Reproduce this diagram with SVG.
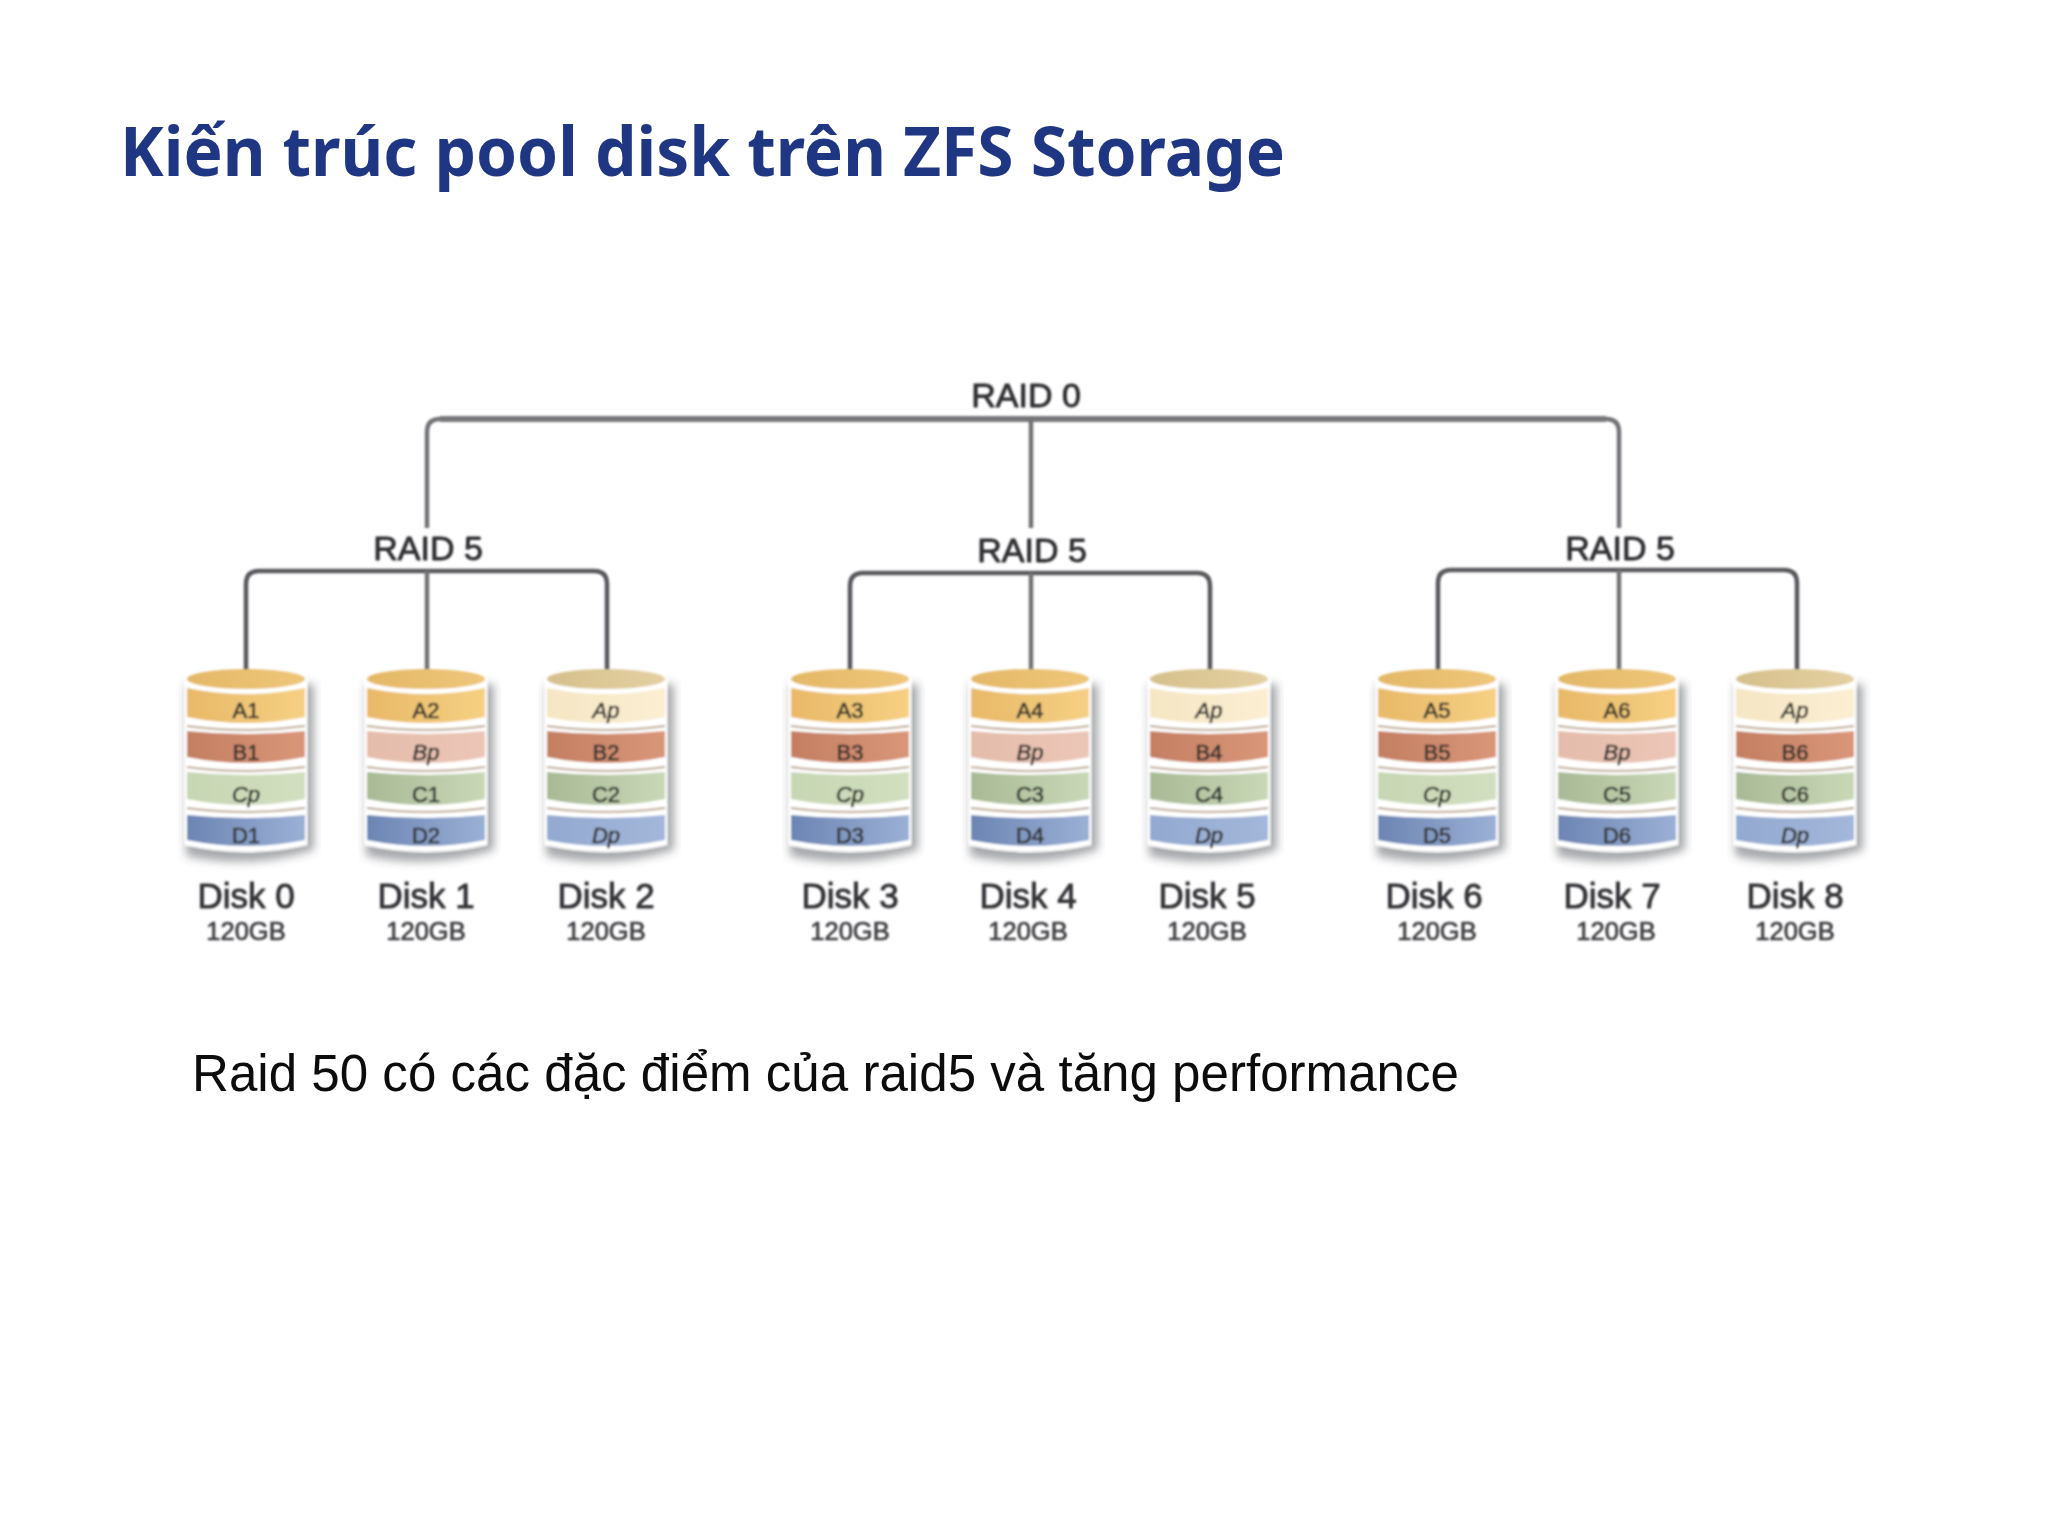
<svg xmlns="http://www.w3.org/2000/svg" width="2048" height="1536" viewBox="0 0 2048 1536">
<style>
.title{font-family:"Noto Sans","Open Sans",sans-serif;font-weight:700;font-size:69px;fill:#1f3683}
.body{font-family:"Liberation Sans",Arial,sans-serif;font-size:51px;fill:#0c0c0c}
text.m{text-anchor:middle;font-family:"Liberation Sans",Arial,sans-serif;stroke-linejoin:round}
.raid{font-size:34px;fill:#2f2f33;stroke:#2f2f33;stroke-width:.9}
.name{font-size:35px;fill:#333337;stroke:#333337;stroke-width:.9}
.size{font-size:25.5px;fill:#3e3e42;stroke:#3e3e42;stroke-width:.7}
.lab{font-size:22px;fill:#33332e;stroke:#33332e;stroke-width:.7}
.par{font-style:italic}
.big{fill:none;stroke:#727277;stroke-width:4.5}
.bar{fill:none;stroke:#58585d;stroke-width:4.5}
.ho{fill:none;stroke:#77777b;stroke-width:6}
</style>
<defs>
<filter id="soft" x="-5%" y="-5%" width="110%" height="110%"><feGaussianBlur stdDeviation="0.8"/></filter>
<filter id="shadow" x="-20%" y="-20%" width="140%" height="140%"><feGaussianBlur stdDeviation="4.5"/></filter>
<linearGradient id="gTop"><stop offset="0" stop-color="#e3b867"/><stop offset="1" stop-color="#efc67a"/></linearGradient>
<linearGradient id="gTopP"><stop offset="0" stop-color="#d5c08c"/><stop offset="1" stop-color="#e5d0a2"/></linearGradient>
<linearGradient id="gA"><stop offset="0" stop-color="#e8b968"/><stop offset="1" stop-color="#f6d083"/></linearGradient>
<linearGradient id="gAp"><stop offset="0" stop-color="#f5e6c4"/><stop offset="1" stop-color="#fbeed2"/></linearGradient>
<linearGradient id="gB"><stop offset="0" stop-color="#c47f62"/><stop offset="1" stop-color="#da9679"/></linearGradient>
<linearGradient id="gBp"><stop offset="0" stop-color="#e4bcab"/><stop offset="1" stop-color="#ecc6b7"/></linearGradient>
<linearGradient id="gC"><stop offset="0" stop-color="#a9b996"/><stop offset="1" stop-color="#c9d8b6"/></linearGradient>
<linearGradient id="gCp"><stop offset="0" stop-color="#c7d6b3"/><stop offset="1" stop-color="#d2dfc0"/></linearGradient>
<linearGradient id="gD"><stop offset="0" stop-color="#6c85b3"/><stop offset="1" stop-color="#9bb0d5"/></linearGradient>
<linearGradient id="gDp"><stop offset="0" stop-color="#93a9d0"/><stop offset="1" stop-color="#a3b7da"/></linearGradient>
<g id="base">
<path d="M-60,684 H68 V850 Q6,870 -60,856 Z" fill="#50555b" opacity=".5" filter="url(#shadow)"/>
<path d="M-61,679 Q0,664 61,679 V845 Q0,859 -61,845 Z" fill="#fff"/>
<path d="M-59,726 Q0,734 59,726 M-59,767 Q0,775 59,767 M-59,808 Q0,816 59,808" fill="none" stroke="#c9b9a8" stroke-width="2.5"/>
</g>
<ellipse id="l0" cx="0" cy="679" rx="59" ry="10"/>
<path id="l1" d="M-59,688 Q0,700 59,688 V717 Q0,729 -59,717 Z"/>
<path id="l2" d="M-59,731 Q0,737 59,731 V757 Q0,769 -59,757 Z"/>
<path id="l3" d="M-59,772 Q0,778 59,772 V799 Q0,811 -59,799 Z"/>
<path id="l4" d="M-59,815 Q0,821 59,815 V840 Q0,852 -59,840 Z"/>
</defs>
<rect width="2048" height="1536" fill="#fff"/>
<text class="title" x="120" y="176" textLength="1165" lengthAdjust="spacingAndGlyphs">Kiến trúc pool disk trên ZFS Storage</text>
<g id="connectors" filter="url(#soft)">
<path class="big" d="M427,528 V432 Q427,419 440,419 H1606 Q1619,419 1619,432 V528"/>
<path class="ho" d="M440,419 H1606"/>
<path class="big" d="M1031,419 V528"/>
<path class="bar" d="M246,682 V584 Q246,571 259,571 H594 Q607,571 607,584 V682"/>
<path class="big" d="M427,571 V682"/>
<path class="bar" d="M850,682 V586 Q850,573 863,573 H1197 Q1210,573 1210,586 V682"/>
<path class="big" d="M1031,573 V682"/>
<path class="bar" d="M1438,682 V583 Q1438,570 1451,570 H1784 Q1797,570 1797,583 V682"/>
<path class="big" d="M1619,570 V682"/>
</g>
<g id="raid0-label" filter="url(#soft)"><text class="m raid" x="1026" y="407">RAID 0</text></g>
<g id="raid5-a-label" filter="url(#soft)"><text class="m raid" x="428" y="560">RAID 5</text></g>
<g id="raid5-b-label" filter="url(#soft)"><text class="m raid" x="1032" y="562">RAID 5</text></g>
<g id="raid5-c-label" filter="url(#soft)"><text class="m raid" x="1620" y="560">RAID 5</text></g>

<g id="disk-0" transform="translate(246,0)" filter="url(#soft)">
<use href="#base"/><use href="#l0" fill="url(#gTop)"/><use href="#l1" fill="url(#gA)"/><use href="#l2" fill="url(#gB)"/><use href="#l3" fill="url(#gCp)"/><use href="#l4" fill="url(#gD)"/>
<text class="m lab" y="718">A1</text><text class="m lab" y="760">B1</text><text class="m lab par" y="802">Cp</text><text class="m lab" y="843">D1</text>
<text class="m name" y="908">Disk 0</text><text class="m size" y="940">120GB</text></g>

<g id="disk-1" transform="translate(426,0)" filter="url(#soft)">
<use href="#base"/><use href="#l0" fill="url(#gTop)"/><use href="#l1" fill="url(#gA)"/><use href="#l2" fill="url(#gBp)"/><use href="#l3" fill="url(#gC)"/><use href="#l4" fill="url(#gD)"/>
<text class="m lab" y="718">A2</text><text class="m lab par" y="760">Bp</text><text class="m lab" y="802">C1</text><text class="m lab" y="843">D2</text>
<text class="m name" y="908">Disk 1</text><text class="m size" y="940">120GB</text></g>

<g id="disk-2" transform="translate(606,0)" filter="url(#soft)">
<use href="#base"/><use href="#l0" fill="url(#gTopP)"/><use href="#l1" fill="url(#gAp)"/><use href="#l2" fill="url(#gB)"/><use href="#l3" fill="url(#gC)"/><use href="#l4" fill="url(#gDp)"/>
<text class="m lab par" y="718">Ap</text><text class="m lab" y="760">B2</text><text class="m lab" y="802">C2</text><text class="m lab par" y="843">Dp</text>
<text class="m name" y="908">Disk 2</text><text class="m size" y="940">120GB</text></g>

<g id="disk-3" transform="translate(850,0)" filter="url(#soft)">
<use href="#base"/><use href="#l0" fill="url(#gTop)"/><use href="#l1" fill="url(#gA)"/><use href="#l2" fill="url(#gB)"/><use href="#l3" fill="url(#gCp)"/><use href="#l4" fill="url(#gD)"/>
<text class="m lab" y="718">A3</text><text class="m lab" y="760">B3</text><text class="m lab par" y="802">Cp</text><text class="m lab" y="843">D3</text>
<text class="m name" y="908">Disk 3</text><text class="m size" y="940">120GB</text></g>

<g id="disk-4" transform="translate(1030,0)" filter="url(#soft)">
<use href="#base"/><use href="#l0" fill="url(#gTop)"/><use href="#l1" fill="url(#gA)"/><use href="#l2" fill="url(#gBp)"/><use href="#l3" fill="url(#gC)"/><use href="#l4" fill="url(#gD)"/>
<text class="m lab" y="718">A4</text><text class="m lab par" y="760">Bp</text><text class="m lab" y="802">C3</text><text class="m lab" y="843">D4</text>
<text class="m name" x="-2" y="908">Disk 4</text><text class="m size" x="-2" y="940">120GB</text></g>

<g id="disk-5" transform="translate(1209,0)" filter="url(#soft)">
<use href="#base"/><use href="#l0" fill="url(#gTopP)"/><use href="#l1" fill="url(#gAp)"/><use href="#l2" fill="url(#gB)"/><use href="#l3" fill="url(#gC)"/><use href="#l4" fill="url(#gDp)"/>
<text class="m lab par" y="718">Ap</text><text class="m lab" y="760">B4</text><text class="m lab" y="802">C4</text><text class="m lab par" y="843">Dp</text>
<text class="m name" x="-2" y="908">Disk 5</text><text class="m size" x="-2" y="940">120GB</text></g>

<g id="disk-6" transform="translate(1437,0)" filter="url(#soft)">
<use href="#base"/><use href="#l0" fill="url(#gTop)"/><use href="#l1" fill="url(#gA)"/><use href="#l2" fill="url(#gB)"/><use href="#l3" fill="url(#gCp)"/><use href="#l4" fill="url(#gD)"/>
<text class="m lab" y="718">A5</text><text class="m lab" y="760">B5</text><text class="m lab par" y="802">Cp</text><text class="m lab" y="843">D5</text>
<text class="m name" x="-3" y="908">Disk 6</text><text class="m size" y="940">120GB</text></g>

<g id="disk-7" transform="translate(1617,0)" filter="url(#soft)">
<use href="#base"/><use href="#l0" fill="url(#gTop)"/><use href="#l1" fill="url(#gA)"/><use href="#l2" fill="url(#gBp)"/><use href="#l3" fill="url(#gC)"/><use href="#l4" fill="url(#gD)"/>
<text class="m lab" y="718">A6</text><text class="m lab par" y="760">Bp</text><text class="m lab" y="802">C5</text><text class="m lab" y="843">D6</text>
<text class="m name" x="-5" y="908">Disk 7</text><text class="m size" x="-1" y="940">120GB</text></g>

<g id="disk-8" transform="translate(1795,0)" filter="url(#soft)">
<use href="#base"/><use href="#l0" fill="url(#gTopP)"/><use href="#l1" fill="url(#gAp)"/><use href="#l2" fill="url(#gB)"/><use href="#l3" fill="url(#gC)"/><use href="#l4" fill="url(#gDp)"/>
<text class="m lab par" y="718">Ap</text><text class="m lab" y="760">B6</text><text class="m lab" y="802">C6</text><text class="m lab par" y="843">Dp</text>
<text class="m name" y="908">Disk 8</text><text class="m size" y="940">120GB</text></g>

<text class="body" x="192" y="1091" textLength="1267" lengthAdjust="spacingAndGlyphs">Raid 50 có các đặc điểm của raid5 và tăng performance</text>
</svg>
